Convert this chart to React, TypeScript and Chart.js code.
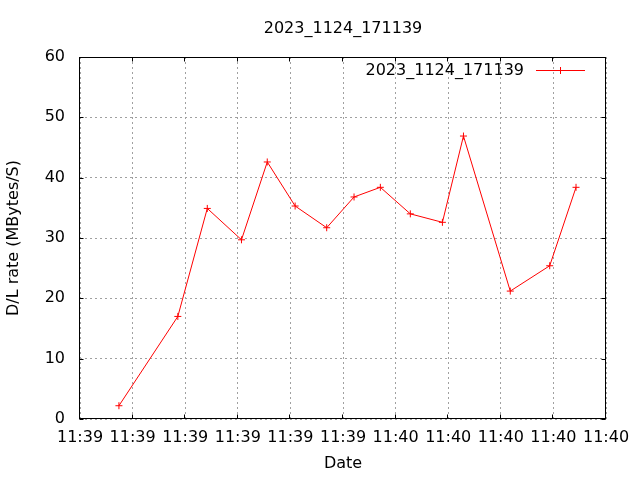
import React, { useEffect, useRef } from "react";
import { Chart, registerables } from "chart.js";

Chart.register(...registerables);

const chartTitle = "2023_1124_171139";
const seriesName = "2023_1124_171139";
// seconds after 11:39:00
const timeSeconds = [7.4, 18.6, 24.2, 30.7, 35.6, 40.9, 46.9, 52.1, 57.1, 62.8, 68.9, 72.9, 81.8, 89.3, 94.3];
const rates = [2.2, 17.0, 34.9, 29.7, 42.6, 35.3, 31.7, 36.8, 38.4, 34.0, 32.6, 46.9, 21.2, 25.4, 38.4];
const xTickLabels = ["11:39", "11:39", "11:39", "11:39", "11:39", "11:39", "11:40", "11:40", "11:40", "11:40", "11:40"];
const xTitle = "Date";
const yTitle = "D/L rate (MBytes/S)";

const FONT = "'DejaVu Sans', sans-serif";

const framePlugin = {
  id: "gnuFrame",
  beforeDatasetsDraw(chart: any) {
    const { ctx, chartArea } = chart;
    const l = Math.floor(chartArea.left) - 0.5;
    const r = Math.round(chartArea.right) - 0.5;
    const t = Math.round(chartArea.top) + 0.5;
    const b = Math.round(chartArea.bottom) - 0.5;
    ctx.save();
    ctx.strokeStyle = "#000";
    ctx.lineWidth = 1;
    ctx.setLineDash([]);
    ctx.strokeRect(l, t, r - l, b - t);
    const tl = 4;
    ctx.beginPath();
    const xs = chart.scales.x;
    xs.ticks.forEach((tk: any) => {
      const px = Math.round(xs.getPixelForValue(tk.value)) - 0.5;
      ctx.moveTo(px, b);
      ctx.lineTo(px, b - tl);
      ctx.moveTo(px, t);
      ctx.lineTo(px, t + tl);
    });
    const ys = chart.scales.y;
    ys.ticks.forEach((tk: any) => {
      const py = Math.round(ys.getPixelForValue(tk.value)) + 0.5;
      ctx.moveTo(l, py);
      ctx.lineTo(l + tl, py);
      ctx.moveTo(r, py);
      ctx.lineTo(r - tl, py);
    });
    ctx.stroke();
    ctx.restore();
  },
  afterDraw(chart: any) {
    const { ctx, chartArea } = chart;
    ctx.save();
    ctx.fillStyle = "#000";
    ctx.font = `16px ${FONT}`;
    ctx.textBaseline = "alphabetic";
    ctx.textAlign = "center";
    ctx.fillText(chartTitle, (chartArea.left + chartArea.right) / 2, 33);
    // legend
    ctx.textAlign = "right";
    ctx.fillText(seriesName, 524, 75);
    ctx.strokeStyle = "#ff0000";
    ctx.lineWidth = 1;
    ctx.beginPath();
    ctx.moveTo(536, 70.5);
    ctx.lineTo(585, 70.5);
    ctx.moveTo(560.5, 67);
    ctx.lineTo(560.5, 74);
    ctx.stroke();
    ctx.restore();
  },
};

export default function App() {
  const ref = useRef<HTMLCanvasElement | null>(null);
  useEffect(() => {
    if (!ref.current) return;
    Chart.defaults.font.family = FONT;
    Chart.defaults.font.size = 16;
    Chart.defaults.color = "#000";
    const chart = new Chart(ref.current, {
      type: "line",
      data: {
        datasets: [
          {
            label: seriesName,
            data: timeSeconds.map((x, i) => ({ x, y: rates[i] })),
            borderColor: "#ff0000",
            backgroundColor: "#ff0000",
            borderWidth: 1,
            pointStyle: "cross",
            pointRadius: 3.5,
            pointBorderWidth: 1,
            pointBorderColor: "#ff0000",
            fill: false,
            tension: 0,
          },
        ],
      },
      options: {
        responsive: false,
        animation: false,
        layout: { padding: { top: 57, right: 34, left: 0, bottom: 0 } },
        plugins: {
          legend: { display: false },
          title: { display: false },
          tooltip: { enabled: false },
        },
        scales: {
          x: {
            type: "linear",
            min: 0,
            max: 100,
            afterFit: (s: any) => {
              s.height = 61;
            },
            ticks: {
              stepSize: 10,
              autoSkip: false,
              maxRotation: 0,
              padding: 9,
              font: { size: 16 },
              callback: (_v: any, i: number) => xTickLabels[i],
            },
            grid: { color: "#a0a0a0", lineWidth: 1, drawTicks: false },
            border: { display: false, dash: [2, 3] },
            title: { display: true, text: xTitle, font: { size: 16 }, padding: { bottom: 7 } },
          },
          y: {
            min: 0,
            max: 60,
            afterFit: (s: any) => {
              s.width = 80;
            },
            ticks: { stepSize: 10, padding: 15, font: { size: 16 } },
            grid: { color: "#a0a0a0", lineWidth: 1, drawTicks: false },
            border: { display: false, dash: [2, 3] },
            title: { display: true, text: yTitle, font: { size: 16 }, padding: { top: 4 } },
          },
        },
      },
      plugins: [framePlugin],
    });
    return () => chart.destroy();
  }, []);
  return (
    <canvas
      ref={ref}
      width={640}
      height={480}
      style={{ position: "fixed", left: 0, top: 0, width: 640, height: 480, background: "#fff" }}
    />
  );
}
